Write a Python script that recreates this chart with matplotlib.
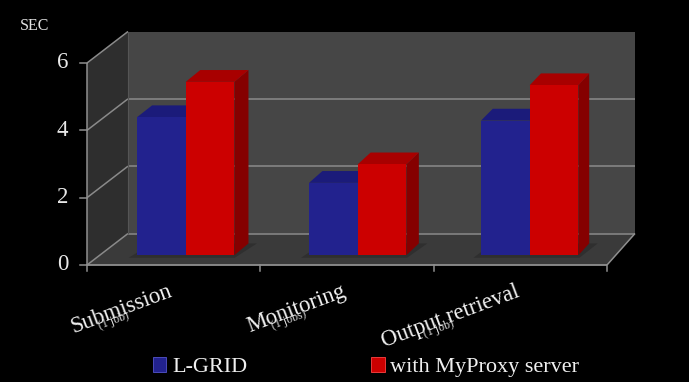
import matplotlib
matplotlib.use("Agg")
import matplotlib.pyplot as plt
from matplotlib.patches import Polygon, Patch
import numpy as np

# ---- data -------------------------------------------------------------
categories = ["Submission", "Monitoring", "Output retrieval"]
sub_labels = ["(1 job)", "(1 jobs)", "(1 job)"]
series_names = ["L-GRID", "with MyProxy server"]
lgrid = [4.1, 2.15, 4.0]
myproxy = [5.15, 2.7, 5.05]
y_ticks = [0, 2, 4, 6]
y_unit = "SEC"

# ---- figure / axes ----------------------------------------------------
W, H, DPI = 689, 382, 100
fig = plt.figure(figsize=(W / DPI, H / DPI), dpi=DPI, facecolor="black")
ax = fig.add_axes([0, 0, 1, 1])
ax.set_facecolor("black")
ax.axis("off")

SERIF = "Liberation Serif"
n = len(categories)
vmax = y_ticks[-1]

# front plane of the box, in figure pixels
X_LEFT_PX, X_RIGHT_PX = 87, 607
Y_ZERO_PX, Y_TOP_PX = 265, 63
px_cat = (X_RIGHT_PX - X_LEFT_PX) / n
px_val = (Y_ZERO_PX - Y_TOP_PX) / vmax
ax.set_xlim(-X_LEFT_PX / px_cat, (W - X_LEFT_PX) / px_cat)
ax.set_ylim(-(H - Y_ZERO_PX) / px_val, Y_ZERO_PX / px_val)

# depth of the box (slight perspective: receding offset shrinks to the right)
DX_L = 41 / px_cat
DX_R = 28 / px_cat
DY = 31.5 / px_val


def proj(x, v, d):
    dx = DX_L + (DX_R - DX_L) * x / n
    return (x + d * dx, v + d * DY)


def face(pts, color, z, **kw):
    ax.add_patch(Polygon([proj(*p) for p in pts], closed=True,
                         facecolor=color, edgecolor="none", zorder=z, **kw))


def seg(p, q, color="#8a8a8a", lw=1.1, z=2):
    a, b = proj(*p), proj(*q)
    ax.plot([a[0], b[0]], [a[1], b[1]], color=color, lw=lw, zorder=z,
            solid_capstyle="butt")


# walls and floor
face([(0, 0, 0), (0, vmax, 0), (0, vmax, 1), (0, 0, 1)], "#2e2e2e", 1)
face([(0, 0, 1), (n, 0, 1), (n, vmax, 1), (0, vmax, 1)], "#464646", 1)
face([(0, 0, 0), (n, 0, 0), (n, 0, 1), (0, 0, 1)], "#3a3a3a", 1)

# gridlines
for t in y_ticks:
    seg((0, t, 0), (0, t, 1))
    if t < vmax:
        seg((0, t, 1), (n, t, 1))
seg((0, 0, 1), (0, vmax, 1), color="#555555", lw=0.8)

# axes lines
seg((0, 0, 0), (n, 0, 0), color="#8f8f8f", lw=1.3, z=6)
seg((0, 0, 0), (0, vmax, 0), color="#8f8f8f", lw=1.1, z=6)
seg((n, 0, 0), (n, 0, 1), color="#8f8f8f", lw=1.1, z=6)

tick_v = 6 / px_val
tick_h = 7 / px_cat
for i in range(n + 1):
    ax.plot([i, i], [0, -tick_v], color="#8f8f8f", lw=1.1, zorder=6)
for t in y_ticks:
    ax.plot([-tick_h, 0], [t, t], color="#8f8f8f", lw=1.1, zorder=6)
    ax.text(-19 / px_cat, t, str(t), ha="right", va="center", fontsize=16.5,
            family=SERIF, color="#e8e8e8")

ax.text(-67 / px_cat, (Y_ZERO_PX - 26) / px_val, y_unit, ha="left",
        va="center", fontsize=11.5, family=SERIF, color="#e0e0e0")

# bars
bar_w = 0.283
d0, d1 = 0.31, 0.685
styles = [("#22228e", "#1b1b7a", "#15155e"),
          ("#cc0000", "#a80000", "#850000")]
for i in range(n):
    c = i + 0.5
    # soft shadow on the floor
    face([(c - bar_w - 0.03, 0, d0 - 0.08), (c + bar_w + 0.02, 0, d0 - 0.08),
          (c + bar_w + 0.05, 0, d1), (c - bar_w, 0, d1)], "#262626", 2,
         alpha=0.55)
    for k, vals in enumerate([lgrid, myproxy]):
        x0 = c - bar_w + k * bar_w
        x1 = x0 + bar_w
        v = vals[i]
        front, top, side = styles[k]
        face([(x1, 0, d0), (x1, 0, d1), (x1, v, d1), (x1, v, d0)], side, 3)
        face([(x0, v, d0), (x1, v, d0), (x1, v, d1), (x0, v, d1)], top, 3)
        face([(x0, 0, d0), (x1, 0, d0), (x1, v, d0), (x0, v, d0)], front, 4)

# category labels
ROT = 20.5
base_v = -31 / px_val
fig.canvas.draw()
renderer = fig.canvas.get_renderer()
for i, (name, sub) in enumerate(zip(categories, sub_labels)):
    c = i + 0.5
    ax.text(c, base_v, name, rotation=ROT, rotation_mode="anchor",
            ha="right", va="baseline", fontsize=16.5, family=SERIF,
            color="#f0f0f0", zorder=7)
    probe = ax.text(0, 0, name, fontsize=16.5, family=SERIF)
    wpx = probe.get_window_extent(renderer).width
    probe.remove()
    d = 0.6 * wpx
    th = np.radians(ROT)
    ax.annotate(sub, xy=(c, base_v), xytext=(-d * np.cos(th), -d * np.sin(th) - 2),
                textcoords="offset pixels", rotation=ROT,
                rotation_mode="anchor", ha="center", va="center",
                fontsize=8.5, family=SERIF, color="#dcdcdc", zorder=8)

# legend
handles = [Patch(facecolor=styles[0][0], edgecolor="#5555cc", lw=0.6),
           Patch(facecolor=styles[1][0], edgecolor="#ff4444", lw=0.6)]
fig.legend(handles, series_names, loc="lower left",
           bbox_to_anchor=(153 / W, (H - 377) / H), ncol=2, frameon=False,
           borderpad=0, borderaxespad=0, handlelength=0.6, handleheight=0.65,
           handletextpad=0.25, columnspacing=5.6,
           prop={"family": SERIF, "size": 16}, labelcolor="#f0f0f0")

fig.savefig("out.png", dpi=DPI, facecolor="black")
